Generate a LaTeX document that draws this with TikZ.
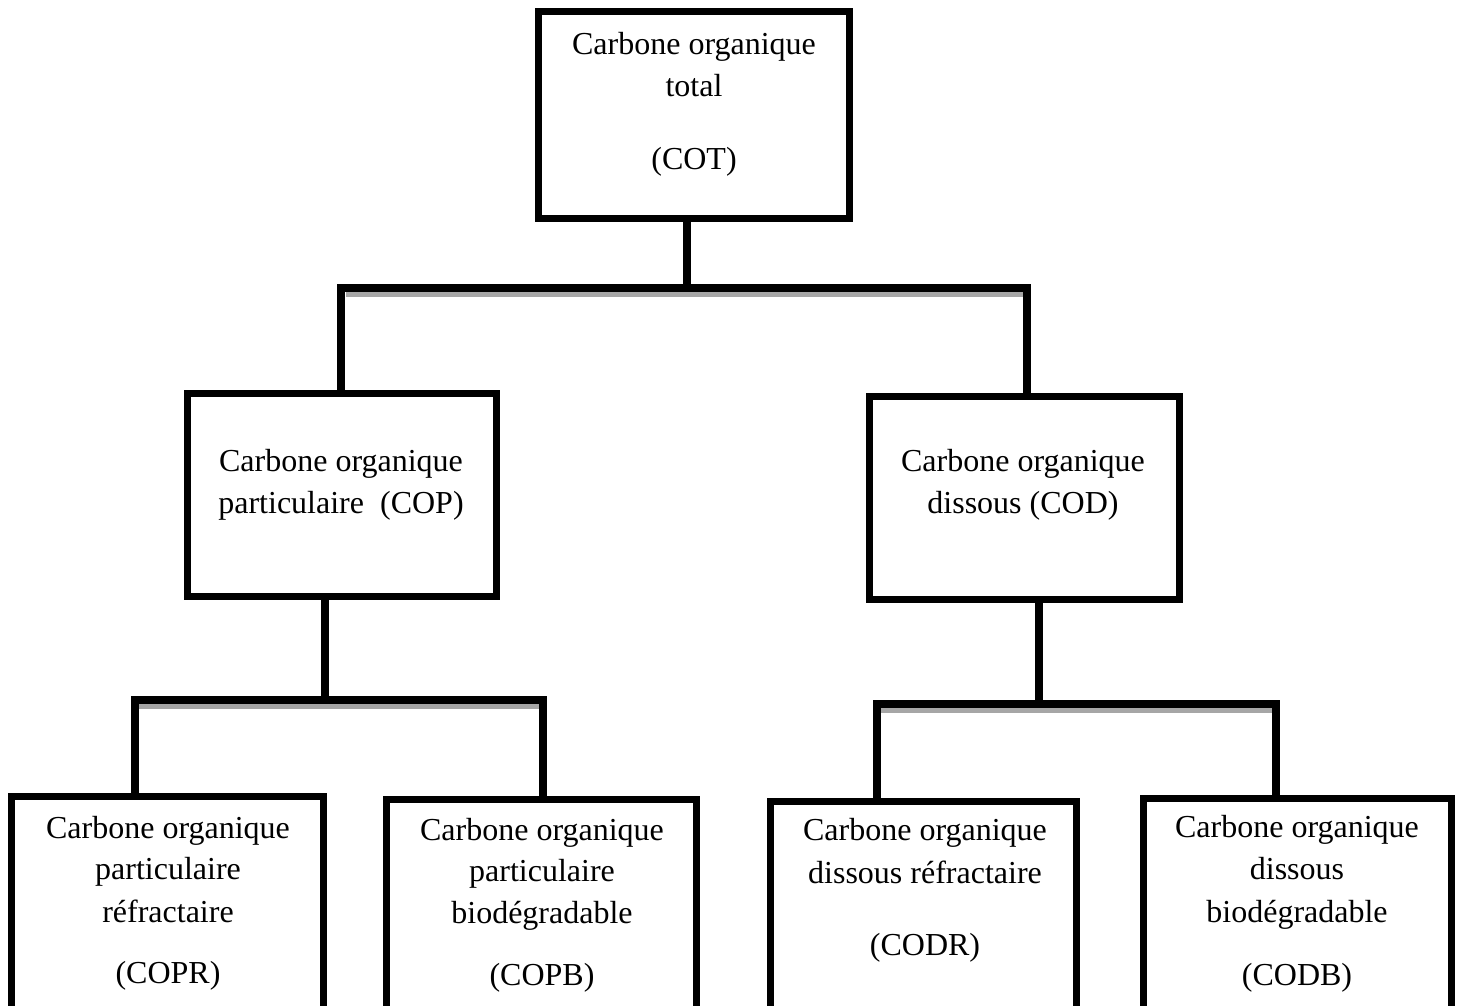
\documentclass[tikz,border=0pt]{standalone}
\usepackage{fontspec}
\setmainfont{Liberation Serif}
\begin{document}
\begin{tikzpicture}[x=0.5pt,y=-0.5pt,
  box/.style={draw=black,line width=3.5pt,rectangle,inner sep=0pt,fill=white},
  conn/.style={draw=black,line width=4pt,line join=miter},
  shade/.style={draw={rgb,255:red,166;green,166;blue,166},line width=3pt},
  txt/.style={anchor=base,inner sep=0pt,font=\fontsize{16pt}{20pt}\selectfont}]
\useasboundingbox (0,0) rectangle (1459,1005);
\clip (0,0) rectangle (1459,1005);
\fill[white] (0,0) rectangle (1459,1005);

% boxes
\node[box,minimum width=155.5pt,minimum height=103.5pt] (COT) at (694,115) {};
\node[box,minimum width=154.5pt,minimum height=101.5pt] (COP) at (342,495) {};
\node[box,minimum width=155pt,minimum height=101.5pt] (COD) at (1024.5,498) {};
\node[box,minimum width=156pt,minimum height=116.75pt] (COPR) at (167.5,913.25) {};
\node[box,minimum width=155pt,minimum height=115.25pt] (COPB) at (541.5,914.75) {};
\node[box,minimum width=153pt,minimum height=114.25pt] (CODR) at (923.5,915.75) {};
\node[box,minimum width=154pt,minimum height=115.75pt] (CODB) at (1297.5,914.25) {};

% junction coordinates
\coordinate (j0) at (687,288);
\coordinate (jl) at (341,288);
\coordinate (jr) at (1027,288);
\coordinate (k0) at (325,699.5);
\coordinate (kl) at (135,699.5);
\coordinate (kr) at (543,699.5);
\coordinate (m0) at (1039,704);
\coordinate (ml) at (876.5,704);
\coordinate (mr) at (1276,704);

% grey shadows under the bars
\draw[shade] (345.5,294.5) -- (1023,294.5);
\draw[shade] (138.5,706) -- (539.5,706);
\draw[shade] (880,710) -- (1272,710);

% connectors
\draw[conn] (COT.south -| j0) -- (j0);
\draw[conn] (COP.north -| jl) -- (jl) -- (jr) -- (COD.north -| jr);
\draw[conn] (COP.south -| k0) -- (k0);
\draw[conn] (COPR.north -| kl) -- (kl) -- (kr) -- (COPB.north -| kr);
\draw[conn] (COD.south -| m0) -- (m0);
\draw[conn] (CODR.north -| ml) -- (ml) -- (mr) -- (CODB.north -| mr);

% texts
\node[txt] (t1a) at (694,55) {Carbone organique};
\node[txt] (t1b) at (694,97) {total};
\node[txt] (t1c) at (694,170) {(COT)};

\node[txt] (t2a) at (341,471) {Carbone organique};
\node[txt] (t2b) at (341,513) {particulaire\ \ (COP)};

\node[txt] (t3a) at (1023,471) {Carbone organique};
\node[txt] (t3b) at (1023,513) {dissous (COD)};

\node[txt] (t4a) at (168,838) {Carbone organique};
\node[txt] (t4b) at (168,879) {particulaire};
\node[txt] (t4c) at (168,922) {réfractaire};
\node[txt] (t4d) at (168,983) {(COPR)};

\node[txt] (t5a) at (542,840) {Carbone organique};
\node[txt] (t5b) at (542,881) {particulaire};
\node[txt] (t5c) at (542,923) {biodégradable};
\node[txt] (t5d) at (542,985) {(COPB)};

\node[txt] (t6a) at (925,840) {Carbone organique};
\node[txt] (t6b) at (925,883) {dissous réfractaire};
\node[txt] (t6c) at (925,955) {(CODR)};

\node[txt] (t7a) at (1297,837) {Carbone organique};
\node[txt] (t7b) at (1297,879) {dissous};
\node[txt] (t7c) at (1297,922) {biodégradable};
\node[txt] (t7d) at (1297,985) {(CODB)};
\end{tikzpicture}
\end{document}
